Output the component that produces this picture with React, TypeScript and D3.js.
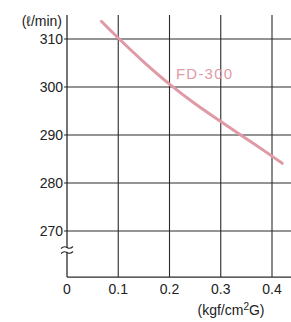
import React, { useEffect, useRef } from 'react';
import * as d3 from 'd3';

// pressure (kgf/cm2G) vs flow (l/min)
const pressure = [0.067, 0.1, 0.15, 0.2, 0.25, 0.3, 0.35, 0.4, 0.42];
const flow = [313.7, 310.2, 305.2, 300.6, 296.5, 292.8, 289.2, 285.6, 284.1];
const xTicks = [0, 0.1, 0.2, 0.3, 0.4];
const xTickLabels = ['0', '0.1', '0.2', '0.3', '0.4'];
const yTicks = [270, 280, 290, 300, 310];
const seriesName = 'FD-300';

export default function App() {
  const ref = useRef<SVGSVGElement>(null);

  useEffect(() => {
    const width = 291;
    const svg = d3.select(ref.current);
    svg.selectAll('*').remove();

    const x = d3.scaleLinear().domain([0, 0.4]).range([67, 272]);
    const y = d3.scaleLinear().domain([270, 310]).range([231, 39]);
    const yTop = y(315), yBottom = y(260.4);
    const xRight = width;
    const font = 'Liberation Sans, Arial, sans-serif';
    const grid = '#2a2a2a';
    const pink = '#e09aa6';

    const g = svg.append('g');

    // horizontal grid
    g.selectAll('line.h')
      .data(yTicks)
      .enter()
      .append('line')
      .attr('x1', x(0) - 3)
      .attr('x2', xRight)
      .attr('y1', d => y(d))
      .attr('y2', d => y(d))
      .attr('stroke', grid)
      .attr('stroke-width', 1.1);

    // bottom axis line
    g.append('line')
      .attr('x1', x(0)).attr('x2', xRight)
      .attr('y1', yBottom).attr('y2', yBottom)
      .attr('stroke', grid).attr('stroke-width', 1.1);

    // vertical grid
    g.selectAll('line.v')
      .data(xTicks)
      .enter()
      .append('line')
      .attr('x1', d => x(d))
      .attr('x2', d => x(d))
      .attr('y1', yTop)
      .attr('y2', yBottom)
      .attr('stroke', grid)
      .attr('stroke-width', d => (d === 0 ? 1.3 : 1.1));

    // y tick labels
    g.selectAll('text.y')
      .data(yTicks)
      .enter()
      .append('text')
      .attr('x', x(0) - 4)
      .attr('y', d => y(d))
      .attr('dy', '0.36em')
      .attr('text-anchor', 'end')
      .attr('font-family', font)
      .attr('font-size', 14)
      .attr('fill', '#222')
      .text(d => d);

    // x tick labels
    g.selectAll('text.x')
      .data(xTicks)
      .enter()
      .append('text')
      .attr('x', d => x(d))
      .attr('y', yBottom + 17)
      .attr('text-anchor', 'middle')
      .attr('font-family', font)
      .attr('font-size', 14)
      .attr('fill', '#222')
      .text((d, i) => xTickLabels[i]);

    // axis break
    const bx = x(0);
    g.append('rect')
      .attr('x', bx - 4).attr('y', 248)
      .attr('width', 8).attr('height', 4)
      .attr('fill', '#fff');
    [247.5, 252.5].forEach(by => {
      g.append('path')
        .attr('d', `M${bx - 6},${by + 1} Q${bx - 3},${by - 2} ${bx},${by} T${bx + 6},${by - 1}`)
        .attr('fill', 'none')
        .attr('stroke', grid)
        .attr('stroke-width', 1.1);
    });

    // units
    g.append('text')
      .attr('x', 62)
      .attr('y', 26)
      .attr('text-anchor', 'end')
      .attr('font-family', font)
      .attr('font-size', 14)
      .attr('fill', '#222')
      .text('(ℓ/min)');

    const xl = g.append('text')
      .attr('x', 231)
      .attr('y', 315)
      .attr('text-anchor', 'middle')
      .attr('font-family', font)
      .attr('font-size', 14)
      .attr('fill', '#222');
    xl.append('tspan').text('(kgf/cm');
    xl.append('tspan').attr('font-size', 10).attr('dy', -5).text('2');
    xl.append('tspan').attr('dy', 5).text('G)');

    // curve
    const line = d3.line<number>()
      .x((d, i) => x(pressure[i]))
      .y(d => y(d))
      .curve(d3.curveCatmullRom);
    g.append('path')
      .datum(flow)
      .attr('d', line)
      .attr('fill', 'none')
      .attr('stroke', pink)
      .attr('stroke-width', 3)
      .attr('stroke-linecap', 'round');

    g.append('text')
      .attr('x', 176)
      .attr('y', 79)
      .attr('font-family', font)
      .attr('font-size', 15)
      .attr('letter-spacing', 1.2)
      .attr('fill', pink)
      .text(seriesName);
  }, []);

  return (
    <svg
      ref={ref}
      width={291}
      height={322}
      style={{ position: 'absolute', left: 0, top: 0, background: '#fff' }}
    />
  );
}
